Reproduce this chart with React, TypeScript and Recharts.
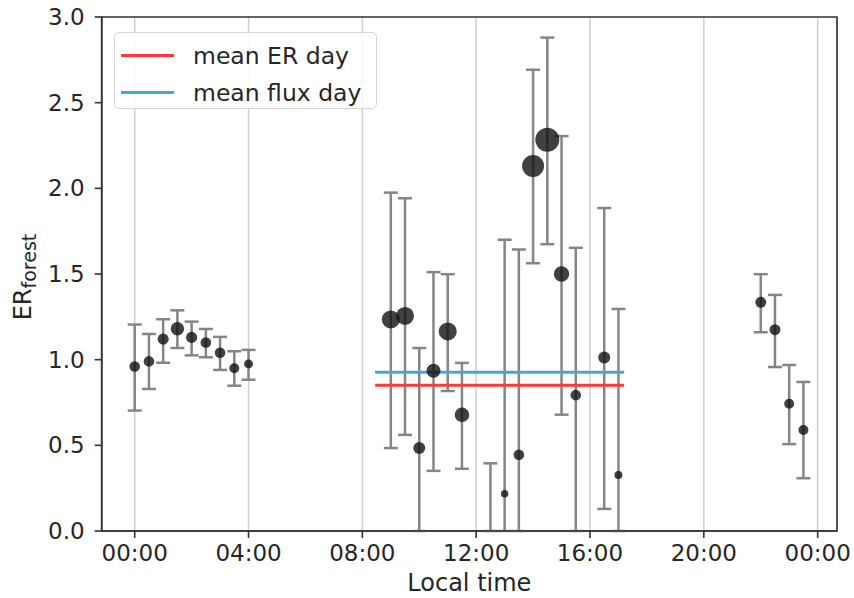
import {
  CartesianGrid,
  ComposedChart,
  ErrorBar,
  Label,
  Legend,
  Line,
  ReferenceArea,
  Scatter,
  XAxis,
  YAxis,
  ZAxis,
} from "recharts";

// local time (hours) of each bin
const TIMES = [
  0, 0.5, 1, 1.5, 2, 2.5, 3, 3.5, 4,
  9, 9.5, 10, 10.5, 11, 11.5, 12.5, 13, 13.5, 14, 14.5, 15, 15.5, 16.5, 17,
  22, 22.5, 23, 23.5,
];
const ER_VALUES = [
  0.96, 0.99, 1.12, 1.18, 1.13, 1.1, 1.04, 0.95, 0.975,
  1.235, 1.255, 0.485, 0.935, 1.165, 0.678, -0.3, 0.218, 0.445, 2.13, 2.283, 1.5, 0.793, 1.012, 0.327,
  1.335, 1.175, 0.743, 0.59,
];
const ER_UPPER = [
  1.205, 1.15, 1.236, 1.288, 1.222, 1.179, 1.133, 1.049, 1.057,
  1.975, 1.942, 1.068, 1.511, 1.499, 0.981, 0.395, 1.7, 1.643, 2.692, 2.88, 2.305, 1.653, 1.885, 1.296,
  1.499, 1.378, 0.969, 0.87,
];
const ER_LOWER = [
  0.703, 0.829, 0.982, 1.068, 1.025, 1.014, 0.94, 0.848, 0.883,
  0.484, 0.561, -0.1, 0.351, 0.817, 0.363, -1.0, -1.3, -0.75, 1.563, 1.674, 0.679, -0.07, 0.129, -0.65,
  1.16, 0.957, 0.507, 0.308,
];
// number of samples per bin (marker area)
const COUNTS = [
  28, 28, 31, 45, 31, 28, 28, 25, 20,
  81, 81, 36, 49, 81, 53, 20, 14, 28, 121, 144, 59, 28, 36, 16,
  30, 30, 25, 25,
];

const MEAN_SPAN = [8.45, 17.2];
const MEAN_ER_DAY = 0.851;
const MEAN_FLUX_DAY = 0.927;

const X_TICKS = [0, 4, 8, 12, 16, 20, 24];
const Y_TICKS = [0, 0.5, 1, 1.5, 2, 2.5, 3];
const Y_MIN = 0;
const Y_MAX = 3;

const RED = "#ff3838";
const BLUE = "#45a7d3";
const FONT = "DejaVu Sans";
const INK = "#262626";
const SPINE = "#333";

// error bars are cut at the bottom of the axes (recharts does not clip them)
const points = TIMES.map((t, i) => {
  const lo = Math.max(ER_LOWER[i], Y_MIN);
  return {
    t,
    y: ER_VALUES[i],
    n: COUNTS[i],
    err: [ER_VALUES[i] - lo, ER_UPPER[i] - ER_VALUES[i]],
  };
});
const erLine = MEAN_SPAN.map((t) => ({ t, y: MEAN_ER_DAY }));
const fluxLine = MEAN_SPAN.map((t) => ({ t, y: MEAN_FLUX_DAY }));

const LEGEND_ITEMS = [
  { label: "mean ER day", color: RED },
  { label: "mean flux day", color: BLUE },
];

const fmtTime = (h: number) => String(h % 24).padStart(2, "0") + ":00";

function LegendBox() {
  return (
    <div
      style={{
        width: 263,
        height: 77,
        boxSizing: "border-box",
        border: "1px solid #d6d6d6",
        borderRadius: 5,
        background: "rgba(255,255,255,0.85)",
        padding: "4px 0 0 6px",
        fontFamily: FONT,
        fontSize: 23.5,
        color: INK,
      }}
    >
      {LEGEND_ITEMS.map((it) => (
        <div
          key={it.label}
          style={{ display: "flex", alignItems: "center", height: 37 }}
        >
          <span
            style={{
              display: "inline-block",
              width: 53,
              height: 3,
              background: it.color,
              marginRight: 19,
            }}
          />
          <span>{it.label}</span>
        </div>
      ))}
    </div>
  );
}

function YLabel() {
  return (
    <text
      transform="translate(31, 277) rotate(-90)"
      textAnchor="middle"
      fontFamily={FONT}
      fill={INK}
    >
      <tspan fontSize={24}>ER</tspan>
      <tspan fontSize={19} dy={5}>
        forest
      </tspan>
    </text>
  );
}

export default function App() {
  return (
    <div style={{ position: "absolute", left: 0, top: 0, background: "#fff" }}>
      <ComposedChart
        width={854}
        height={598}
        margin={{ top: 17, right: 17, bottom: 0, left: 0 }}
      >
        <CartesianGrid horizontal={false} stroke="#cfcfcf" strokeWidth={1.5} />
        <XAxis
          dataKey="t"
          type="number"
          domain={[-1.16, 24.68]}
          allowDataOverflow
          ticks={X_TICKS}
          tickFormatter={fmtTime}
          height={67}
          tickSize={7}
          tickMargin={7}
          stroke={SPINE}
          strokeWidth={1.6}
          tick={{ fill: INK, fontSize: 23, fontFamily: FONT }}
        >
          <Label
            value="Local time"
            position="insideBottom"
            offset={7}
            fill={INK}
            fontSize={24}
            fontFamily={FONT}
          />
        </XAxis>
        <YAxis
          dataKey="y"
          type="number"
          domain={[Y_MIN, Y_MAX]}
          allowDataOverflow
          ticks={Y_TICKS}
          tickFormatter={(v: number) => v.toFixed(1)}
          width={101.7}
          tickSize={7}
          tickMargin={10}
          stroke={SPINE}
          strokeWidth={1.6}
          tick={{ fill: INK, fontSize: 23, fontFamily: FONT }}
          label={<YLabel />}
        />
        <ZAxis dataKey="n" type="number" domain={[0, 150]} range={[0, 471]} />
        <Scatter
          data={points}
          fill="#111"
          fillOpacity={0.8}
          isAnimationActive={false}
        >
          <ErrorBar
            dataKey="err"
            direction="y"
            width={7}
            stroke="#858585"
            strokeWidth={2.5}
          />
        </Scatter>
        <Line
          data={erLine}
          dataKey="y"
          stroke={RED}
          strokeWidth={3}
          dot={false}
          activeDot={false}
          isAnimationActive={false}
        />
        <Line
          data={fluxLine}
          dataKey="y"
          stroke={BLUE}
          strokeWidth={3}
          dot={false}
          activeDot={false}
          isAnimationActive={false}
        />
        {/* frame: top and right spines */}
        <ReferenceArea
          y1={Y_MIN}
          y2={Y_MAX}
          fill="none"
          fillOpacity={0}
          stroke={SPINE}
          strokeWidth={1.6}
        />
        <Legend
          layout="vertical"
          align="center"
          verticalAlign="middle"
          content={() => <LegendBox />}
          wrapperStyle={{ left: 114, top: 32, width: 263 }}
        />
      </ComposedChart>
    </div>
  );
}
